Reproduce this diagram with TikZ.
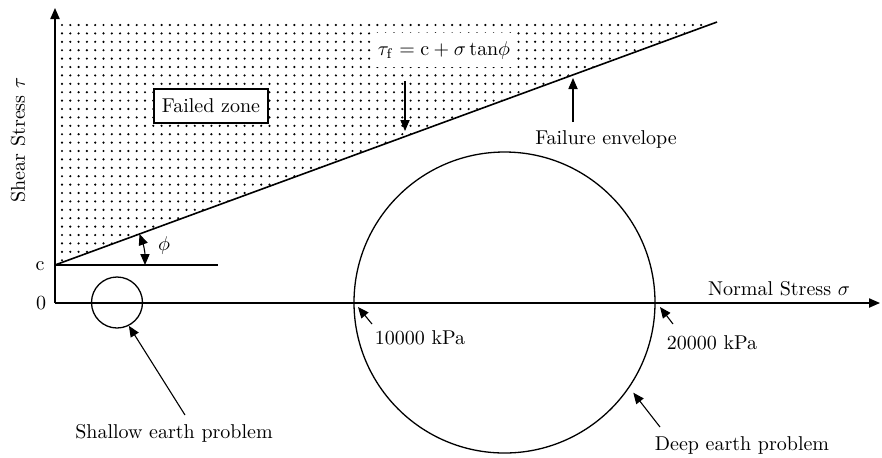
\documentclass[tikz,border=0pt]{standalone}
\usepackage{amsmath}
\usepackage{amssymb}
\usepackage{tikz}
\usetikzlibrary{arrows.meta,calc}
\tikzstyle{axis} = [line width=0.8pt]
\tikzstyle{thin} = [line width=0.55pt]
\tikzstyle{mohr} = [circle, draw, line width=0.65pt, inner sep=0pt]
\tikzstyle{lbl} = [inner sep=1pt]
\tikzstyle{zonebox} = [draw, fill=white, line width=0.6pt, inner xsep=4pt, minimum height=17pt]

\begin{document}
\begin{tikzpicture}[x=0.5pt,y=-0.5pt,>={Triangle[length=5.5pt,width=4.6pt]}]
\useasboundingbox (0,0) rectangle (882,457);

\coordinate (O) at (55,303);
\coordinate (C) at (55,265);
\coordinate (E) at (717,22);
\coordinate (xend) at (880,303);
\coordinate (yend) at (55,8);
\coordinate (cend) at (218,265);

% failed zone
\begin{scope}
  \clip (55,21) -- (717,21) -- (C) -- cycle;
  \foreach \i in {0,...,80}
    \foreach \j in {0,...,29}
      \fill (62+8.3*\i, 25+8.4*\j) circle[radius=0.6pt];
\end{scope}

\draw[axis,->] (O) -- (xend);
\draw[axis,->] (O) -- (yend);
\draw[axis] (C) -- (E);
\draw[axis] (C) -- (cend);

\node[fill=white, minimum width=72pt, minimum height=17pt] (eq) at (444,50) {$\tau_{\mathrm{f}} = \mathrm{c} + \sigma\,\mathrm{tan}\phi$};
\node[zonebox] (zone) at (211,106) {Failed zone};

\node[lbl, rotate=90] (ylab) at (18,140) {Shear Stress $\tau$};
\node[lbl] (xlab) at (779,289) {Normal Stress $\sigma$};
\node[lbl] (clab) at (40,266) {c};
\node[lbl] (zero) at (41,303) {0};

\coordinate (eqtail) at (405,81);
\coordinate (eqtip) at (405,131);
\draw[thin,->] (eqtail) -- (eqtip);

\node[lbl] (fenv) at (606,139) {Failure envelope};
\coordinate (fenvtail) at (573,122);
\coordinate (fenvtip) at (573,78);
\draw[thin,->] (fenvtail) -- (fenvtip);

% angle phi
\coordinate (phia) at (145,265);
\coordinate (phib) at (139.5,234);
\draw[thin,<->] (phia) to[bend right=10] (phib);
\node[lbl] (phi) at (164,245) {$\phi$};

% Mohr circles
\node[mohr, minimum size=25.5pt] (small) at (117,302.5) {};
\node[mohr, minimum size=150.5pt] (deep) at (504.5,302.5) {};

\node[lbl] (shallow) at (174,433) {Shallow earth problem};
\coordinate (shallowtail) at (185,415);
\draw[thin,->] (shallowtail) -- (small.-63);

\node[lbl] (lowk) at (420,338) {10000 kPa};
\coordinate (lowtail) at (372,324);
\coordinate (lowtip) at (358,307);
\draw[thin,->] (lowtail) -- (lowtip);

\node[lbl] (highk) at (712,343) {20000 kPa};
\coordinate (hightail) at (673,324);
\coordinate (hightip) at (660,307);
\draw[thin,->] (hightail) -- (hightip);

\node[lbl] (deeplab) at (742,445) {Deep earth problem};
\coordinate (deeptail) at (660,427);
\draw[thin,->] (deeptail) -- ($(deep.center)!1.04!(deep.-35)$);
\end{tikzpicture}
\end{document}
